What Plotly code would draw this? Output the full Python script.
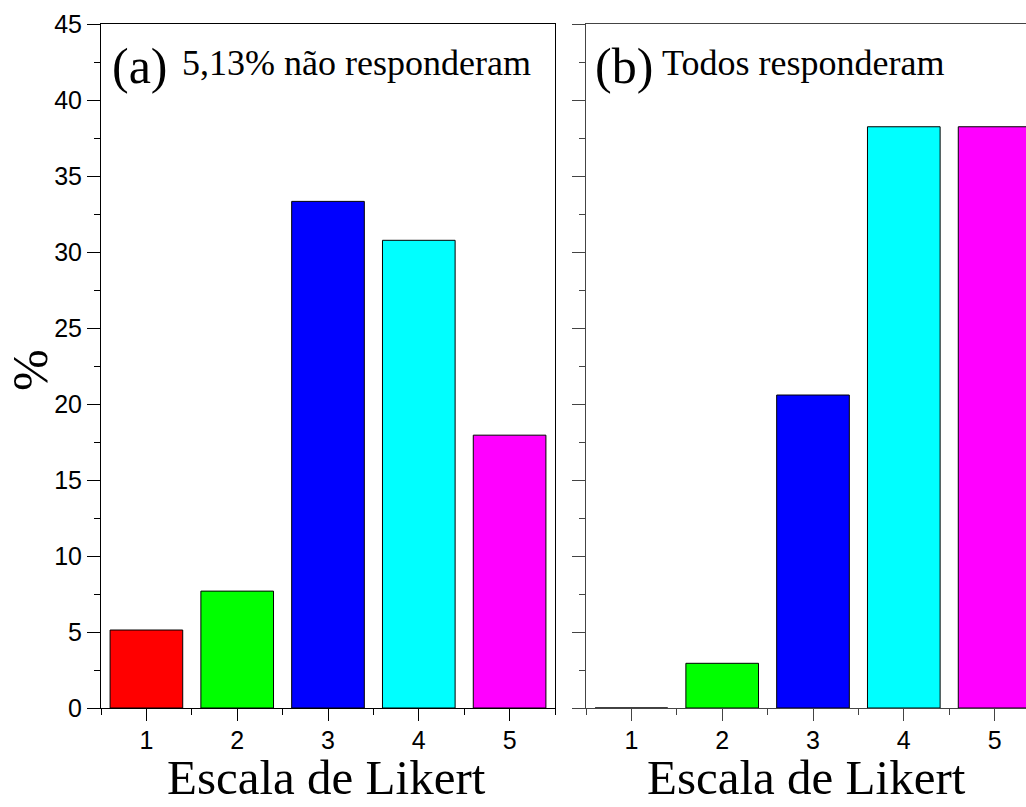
import plotly.graph_objects as go

categories = [1, 2, 3, 4, 5]
values_a = [5.13, 7.69, 33.33, 30.77, 17.95]
values_b = [0.0, 2.94, 20.59, 38.24, 38.24]
bar_colors = ["#FF0000", "#00FF00", "#0000FF", "#00FFFF", "#FF00FF"]
y_tick_vals = [0, 5, 10, 15, 20, 25, 30, 35, 40, 45]
x_title = "Escala de Likert"
y_title = "%"
label_a = "(a)"
note_a = "5,13% não responderam"
label_b = "(b)"
note_b = "Todos responderam"

W, H = 1026, 807
L, R, T, B = 101, 0, 24, 99
pw = W - L - R
ph = H - T - B

def px_x(p):
    return (p - L) / pw

def px_y(p):
    return (H - B - p) / ph

serif = "Times New Roman, Liberation Serif, serif"
sans = "Arial, Liberation Sans, sans-serif"

fig = go.Figure()
fig.add_trace(go.Bar(x=categories, y=values_a, width=0.8,
                     marker=dict(color=bar_colors, line=dict(color="black", width=1)),
                     xaxis="x", yaxis="y", showlegend=False))
fig.add_trace(go.Bar(x=categories, y=values_b, width=0.8,
                     marker=dict(color=bar_colors, line=dict(color="black", width=1)),
                     xaxis="x2", yaxis="y2", showlegend=False))

dom_a = [0, px_x(555)]
dom_b = [px_x(586), 1]
unit = (555 - 101) / 5.0
right_end = 0.5 + (W - 586) / unit

def xaxis_cfg(domain, rng, anchor, color):
    return dict(domain=domain, range=rng, anchor=anchor, automargin=False,
                tickmode="array", tickvals=categories,
                ticks="outside", ticklen=12, tickwidth=1, tickcolor=color,
                showline=True, linecolor=color, linewidth=1, mirror=True,
                showgrid=False, zeroline=False, ticklabelstandoff=-2,
                tickfont=dict(family=sans, size=25, color="black"),
                minor=dict(tickmode="linear", tick0=0.5, dtick=1, ticks="outside",
                           ticklen=6, tickwidth=1, tickcolor=color, showgrid=False),
                fixedrange=True)

def yaxis_cfg(anchor, color, labels):
    return dict(domain=[0, 1], range=[0, 45], anchor=anchor, automargin=False,
                tickmode="array", tickvals=y_tick_vals,
                ticks="outside", ticklen=13, tickwidth=1, tickcolor=color,
                showline=True, linecolor=color, linewidth=1, mirror=True,
                showgrid=False, zeroline=False, showticklabels=labels,
                tickfont=dict(family=sans, size=25, color="black"),
                minor=dict(tickmode="linear", tick0=0, dtick=2.5, ticks="outside",
                           ticklen=6, tickwidth=1, tickcolor=color, showgrid=False),
                fixedrange=True)

fig.update_layout(
    width=W, height=H,
    margin=dict(l=L, r=R, t=T, b=B, pad=0),
    paper_bgcolor="white", plot_bgcolor="white",
    bargap=0.2,
    xaxis=xaxis_cfg(dom_a, [0.5, 5.5], "y", "black"),
    xaxis2=xaxis_cfg(dom_b, [0.5, right_end], "y2", "#444444"),
    yaxis=yaxis_cfg("x", "black", True),
    yaxis2=yaxis_cfg("x2", "#444444", False),
)

annos = [
    dict(text=label_a, x=px_x(110), y=px_y(66), size=50, xa="left", ya="middle"),
    dict(text=note_a, x=px_x(180), y=px_y(63), size=36, xa="left", ya="middle"),
    dict(text=label_b, x=px_x(593), y=px_y(66), size=50, xa="left", ya="middle"),
    dict(text=note_b, x=px_x(660), y=px_y(63), size=36, xa="left", ya="middle"),
    dict(text=x_title, x=px_x(326), y=px_y(807), size=49, xa="center", ya="bottom"),
    dict(text=x_title, x=px_x(806), y=px_y(807), size=49, xa="center", ya="bottom"),
]
for a in annos:
    fig.add_annotation(text=a["text"], x=a["x"], y=a["y"], xref="paper", yref="paper",
                       xanchor=a["xa"], yanchor=a["ya"], showarrow=False,
                       font=dict(family=serif, size=a["size"], color="black"))
fig.add_annotation(text=y_title, x=px_x(30), y=px_y(370), xref="paper", yref="paper",
                   xanchor="center", yanchor="middle", showarrow=False, textangle=-90,
                   font=dict(family=serif, size=50, color="black"))

fig.write_html("out.html", config={"displayModeBar": False},
               post_script="document.body.style.margin='0';")
